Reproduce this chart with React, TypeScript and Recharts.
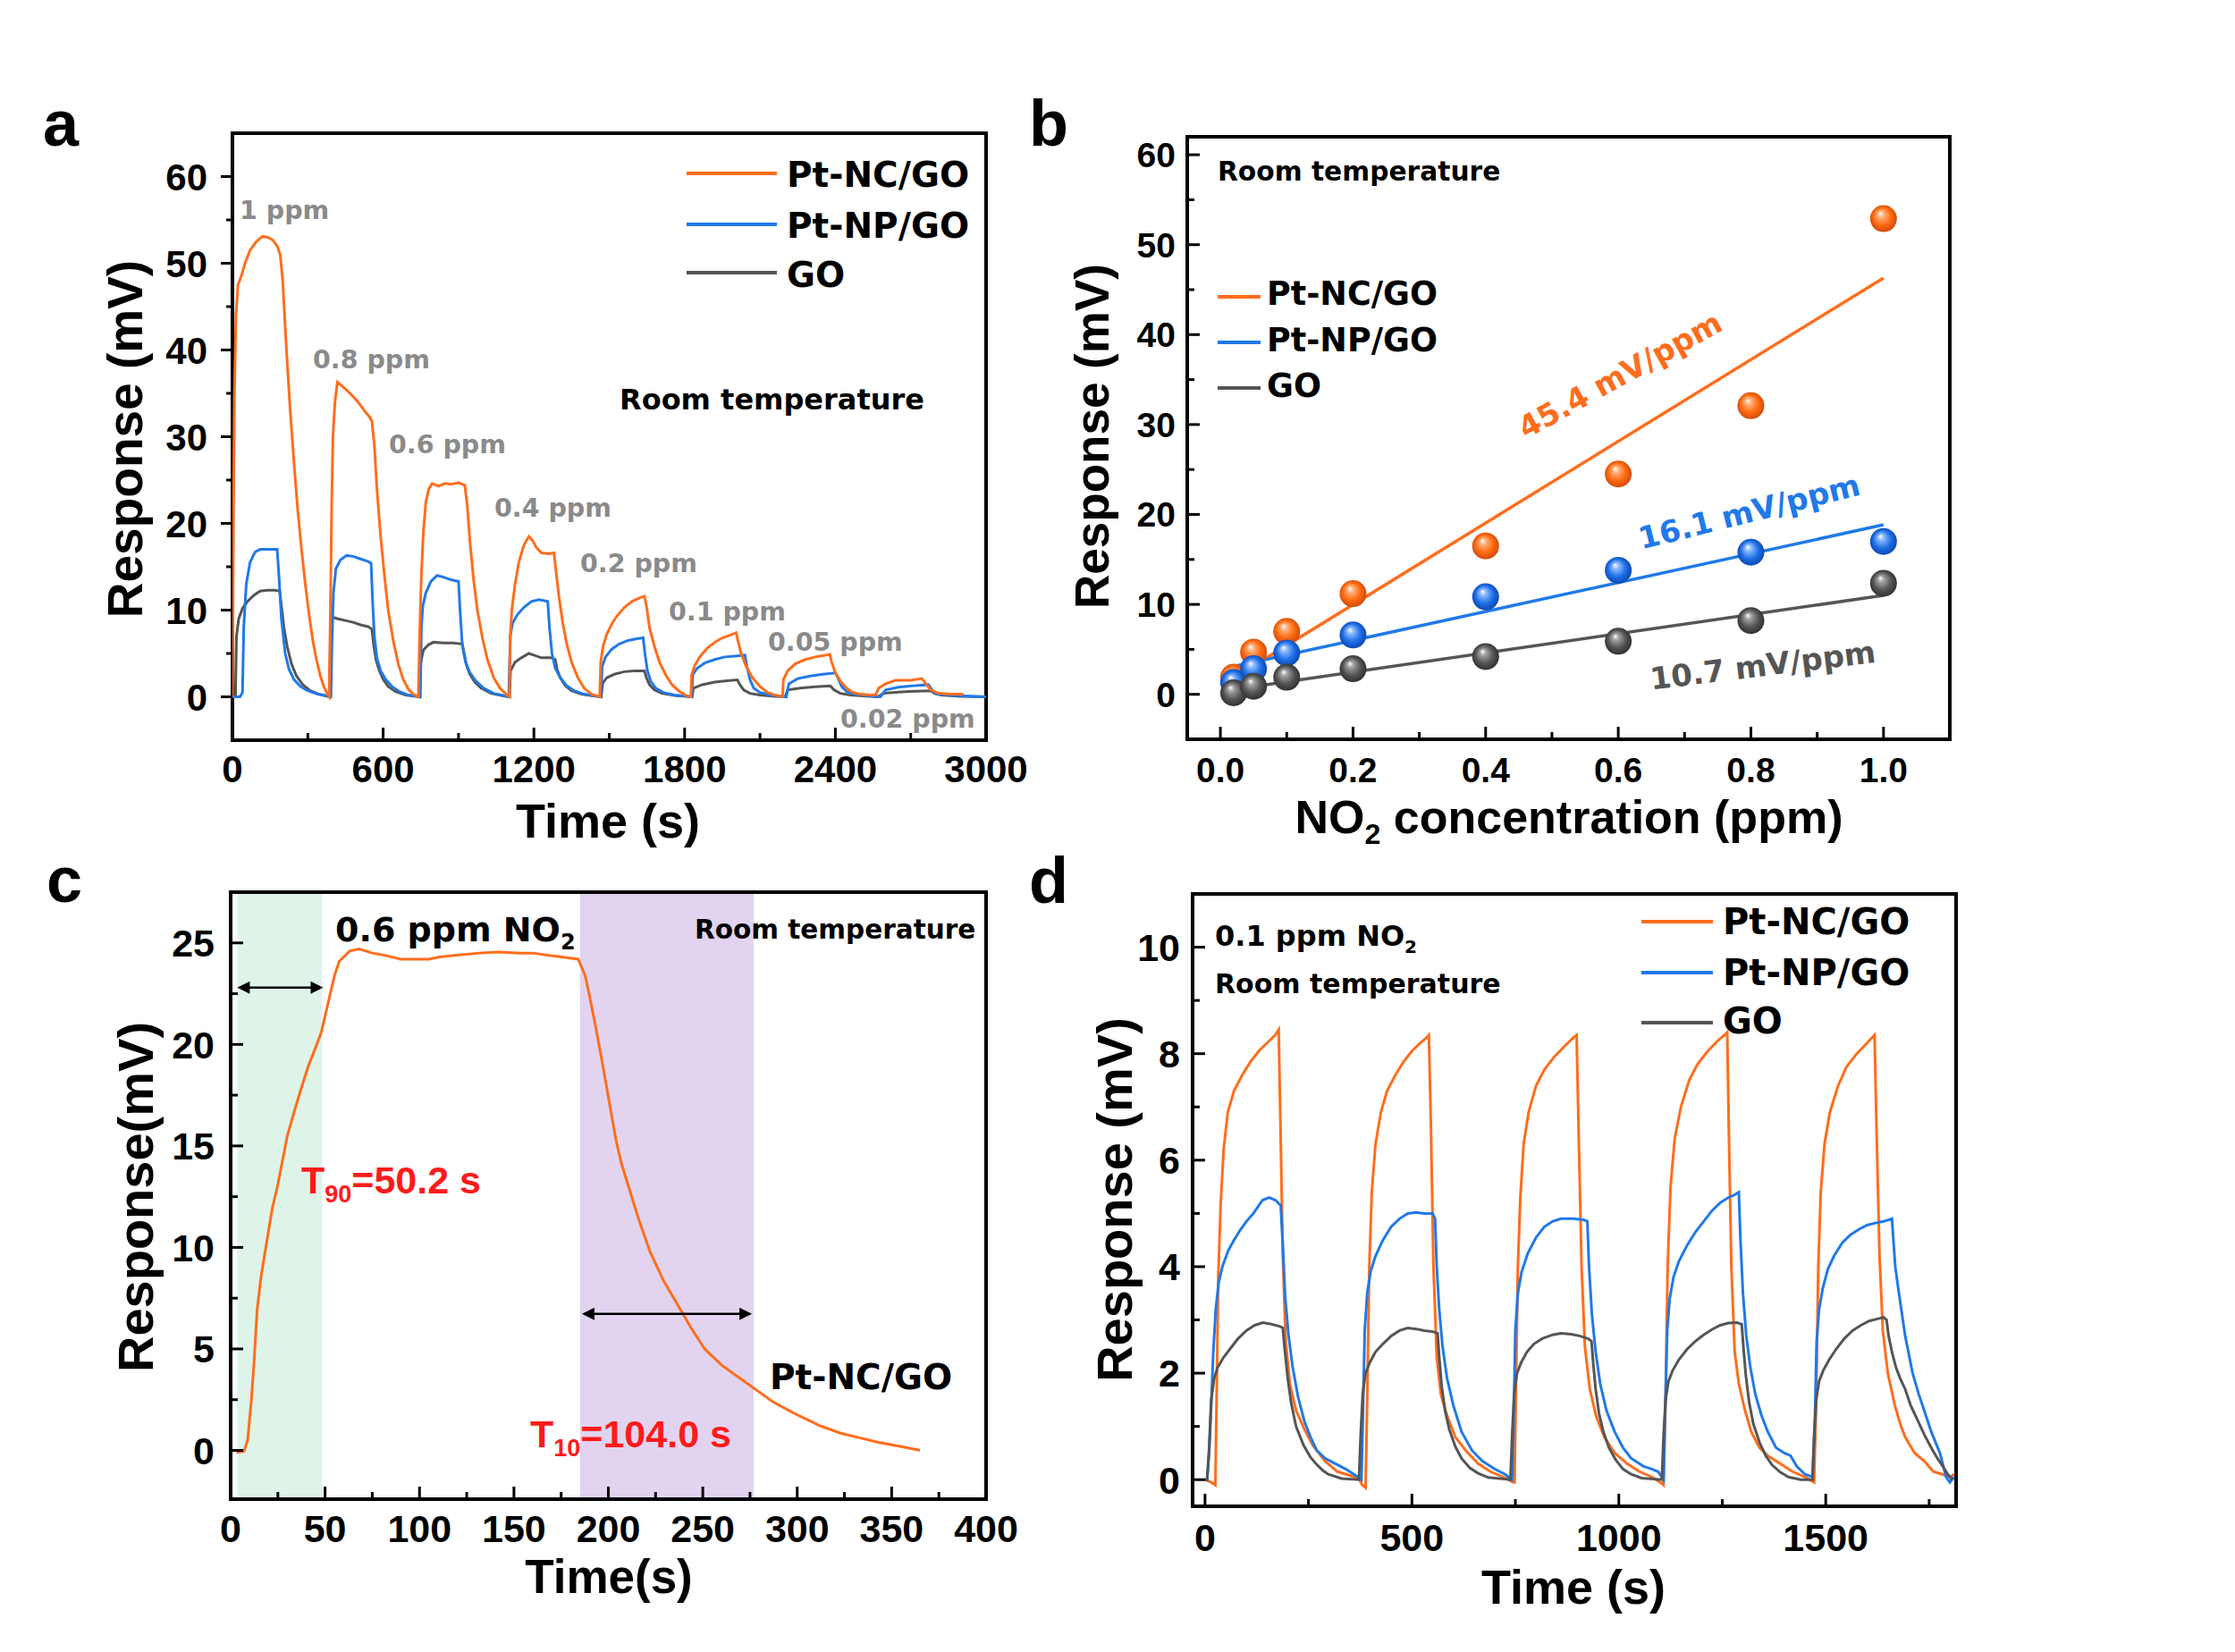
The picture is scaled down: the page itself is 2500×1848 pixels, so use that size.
import React from 'react';
import { ComposedChart, Line, Scatter, XAxis, YAxis, ReferenceArea, ReferenceLine } from 'recharts';

const FA = "'Liberation Sans', Arial, Helvetica, sans-serif";
const FD = "'DejaVu Sans', Verdana, sans-serif";
const ORANGE = '#FF6D1C';
const BLUE = '#2079E8';
const GRAY = '#555555';
const LABEL_GRAY = '#8A8A8A';
const RED = '#FF1A1A';

type P = [number, number];
const toPts = (a: P[]) => a.map(([t, v]) => ({ t, v }));

// ---------- Panel a : response transients (time s, mV) ----------
const aXTicks = [0, 300, 600, 900, 1200, 1500, 1800, 2100, 2400, 2700, 3000];
const aXMajor = [0, 600, 1200, 1800, 2400, 3000];
const aYTicks = [0, 5, 10, 15, 20, 25, 30, 35, 40, 45, 50, 55, 60];
const aYMajor = [0, 10, 20, 30, 40, 50, 60];
const aNC: P[] = [
  [0, 0], [4, 20], [8, 35], [14, 44], [22, 47.5], [35, 48.5], [50, 50], [70, 51.5], [95, 52.5], [120, 53.1], [140, 53], [160, 52.7], [178, 52], [190, 51], [200, 48], [215, 40], [230, 33], [245, 27], [260, 21.5], [275, 17], [290, 13], [305, 9.5], [320, 6.5], [335, 4.2], [350, 2.4], [365, 1.1], [378, 0.3], [385, 0],
  [390, 10], [395, 22], [400, 30], [408, 34], [418, 36.3], [430, 36], [450, 35.5], [475, 34.8], [500, 34], [525, 33], [545, 32.3], [555, 31.8], [565, 29], [575, 24], [590, 18.5], [605, 14], [620, 10], [640, 6.5], [660, 3.8], [680, 2], [700, 0.9], [720, 0.3], [740, 0],
  [746, 8], [752, 14], [760, 19], [770, 22.5], [782, 24], [795, 24.6], [820, 24.3], [845, 24.6], [870, 24.5], [900, 24.7], [925, 24.4], [935, 22], [945, 18], [960, 13.5], [975, 10], [995, 6.8], [1015, 4.3], [1040, 2.2], [1065, 1], [1090, 0.3], [1103, 0],
  [1106, 7], [1112, 10], [1125, 13], [1140, 15.5], [1160, 17.5], [1180, 18.5], [1195, 18], [1210, 17.2], [1230, 16.6], [1260, 16.5], [1280, 16.6], [1290, 14], [1300, 11.5], [1315, 8.5], [1330, 6.2], [1350, 4], [1375, 2.2], [1400, 1], [1430, 0.3], [1462, 0],
  [1466, 4], [1475, 5.8], [1490, 7.2], [1510, 8.4], [1530, 9.3], [1560, 10.3], [1590, 11], [1620, 11.4], [1640, 11.6], [1648, 10.5], [1660, 8], [1680, 5.8], [1700, 4], [1725, 2.5], [1750, 1.4], [1780, 0.6], [1810, 0.1], [1825, 0],
  [1828, 2.5], [1840, 3.6], [1860, 4.6], [1890, 5.6], [1920, 6.3], [1950, 6.8], [1980, 7.1], [2005, 7.4], [2012, 6.5], [2025, 5], [2045, 3.5], [2070, 2.2], [2100, 1.2], [2130, 0.5], [2160, 0.2], [2190, 0],
  [2193, 2], [2210, 3], [2240, 3.8], [2280, 4.3], [2320, 4.6], [2360, 4.8], [2378, 4.9], [2385, 4], [2400, 2.8], [2420, 1.8], [2445, 1], [2470, 0.5], [2500, 0.3], [2540, 0.2], [2560, 0.2],
  [2572, 1], [2600, 1.5], [2640, 1.9], [2700, 1.9], [2745, 2.1], [2760, 1.5], [2780, 0.8], [2810, 0.4], [2860, 0.3], [2910, 0.3],
];
const aNP: P[] = [
  [0, 0], [30, 0], [40, 0.5], [45, 8], [55, 13], [70, 15.5], [90, 16.7], [110, 17], [150, 17], [178, 17], [185, 14], [195, 9], [210, 5], [225, 3.2], [245, 2], [270, 1.2], [300, 0.7], [340, 0.3], [380, 0.1], [392, 0],
  [396, 6], [402, 12], [412, 14.8], [430, 15.8], [455, 16.3], [480, 16.2], [510, 15.9], [540, 15.6], [552, 15.4], [558, 11], [565, 7], [575, 4.5], [590, 3], [610, 2], [635, 1.2], [665, 0.6], [700, 0.2], [748, 0],
  [752, 8], [758, 10.5], [770, 12], [790, 13.3], [815, 14], [840, 13.8], [870, 13.5], [900, 13.3], [906, 10], [915, 6], [928, 4], [945, 2.8], [970, 1.8], [1000, 1], [1040, 0.4], [1100, 0],
  [1106, 7], [1115, 8.5], [1135, 9.5], [1160, 10.3], [1190, 11], [1220, 11.2], [1255, 11], [1262, 8], [1272, 5], [1285, 3.3], [1305, 2.2], [1330, 1.3], [1360, 0.7], [1400, 0.3], [1466, 0],
  [1472, 3.5], [1485, 4.6], [1510, 5.5], [1540, 6.1], [1575, 6.5], [1610, 6.7], [1635, 6.8], [1642, 5], [1652, 3], [1665, 1.8], [1685, 1], [1715, 0.5], [1760, 0.2], [1828, 0],
  [1833, 2.6], [1850, 3.3], [1880, 3.9], [1920, 4.3], [1960, 4.6], [2000, 4.7], [2040, 4.8], [2048, 3.5], [2060, 2], [2075, 1], [2100, 0.5], [2140, 0.2], [2205, 0],
  [2215, 1.5], [2250, 2.1], [2300, 2.4], [2350, 2.6], [2400, 2.75], [2410, 2.2], [2425, 1.2], [2445, 0.6], [2480, 0.3], [2540, 0.1], [2580, 0],
  [2600, 0.8], [2650, 1.1], [2700, 1.25], [2770, 1.4], [2785, 0.8], [2800, 0.35], [2850, 0.2], [2950, 0.05], [3000, 0],
];
const aGO: P[] = [
  [0, 0], [12, 0], [16, 7], [25, 9], [40, 10.2], [60, 11], [85, 11.7], [110, 12.2], [140, 12.3], [170, 12.3], [188, 12.2], [195, 10.5], [205, 8], [218, 5.8], [235, 3.8], [255, 2.4], [280, 1.4], [310, 0.7], [345, 0.3], [386, 0],
  [390, 6], [396, 9.2], [420, 9], [450, 8.8], [480, 8.6], [510, 8.3], [540, 8.1], [555, 7.8], [562, 6], [572, 4.2], [585, 3], [600, 2], [620, 1.2], [650, 0.6], [690, 0.2], [746, 0],
  [750, 4], [760, 5.4], [780, 6], [800, 6.3], [840, 6.2], [880, 6.2], [915, 6.1], [922, 5], [932, 3.6], [945, 2.6], [965, 1.7], [990, 1], [1030, 0.4], [1080, 0.1], [1103, 0],
  [1107, 3], [1125, 4], [1150, 4.5], [1180, 5], [1200, 4.8], [1230, 4.5], [1270, 4.5], [1285, 4.3], [1292, 3.2], [1305, 2.2], [1325, 1.3], [1350, 0.7], [1390, 0.3], [1440, 0.1], [1468, 0],
  [1474, 1.6], [1490, 2.2], [1520, 2.6], [1560, 2.9], [1600, 3], [1640, 3], [1648, 2.2], [1660, 1.4], [1680, 0.8], [1710, 0.4], [1760, 0.15], [1830, 0],
  [1835, 1], [1870, 1.4], [1920, 1.7], [1970, 1.85], [2010, 1.95], [2020, 1.4], [2035, 0.8], [2060, 0.4], [2100, 0.2], [2160, 0.05], [2200, 0],
  [2210, 0.8], [2260, 1], [2320, 1.15], [2380, 1.25], [2395, 0.8], [2420, 0.4], [2460, 0.2], [2540, 0.05], [2570, 0],
  [2590, 0.4], [2650, 0.55], [2720, 0.65], [2780, 0.7], [2795, 0.4], [2820, 0.2], [2900, 0.05], [3000, 0],
];

// ---------- Panel b : calibration ----------
const bConc = [0.02, 0.05, 0.1, 0.2, 0.4, 0.6, 0.8, 1.0];
const bNC = [1.9, 4.7, 7.0, 11.2, 16.5, 24.5, 32.1, 52.9];
const bNP = [1.3, 2.85, 4.6, 6.6, 10.85, 13.8, 15.8, 17.0];
const bGO = [0.17, 0.9, 1.9, 2.85, 4.2, 5.9, 8.2, 12.35];
const bFitNC: P[] = [[0.02, 1.8], [1.0, 46.3]];
const bFitNP: P[] = [[0.02, 3.1], [1.0, 18.85]];
const bFitGO: P[] = [[0.02, 0.55], [1.0, 11.0]];
const bXTicks = [0, 0.1, 0.2, 0.3, 0.4, 0.5, 0.6, 0.7, 0.8, 0.9, 1.0];
const bXMajor = [0, 0.2, 0.4, 0.6, 0.8, 1.0];
const bYTicks = [0, 5, 10, 15, 20, 25, 30, 35, 40, 45, 50, 55, 60];
const bYMajor = [0, 10, 20, 30, 40, 50, 60];
const zipPts = (xs: number[], ys: number[]) => xs.map((t, i) => ({ t, v: ys[i] }));

// ---------- Panel c : single transient ----------
const cNC: P[] = [
  [3, -0.1], [7, -0.05], [9, 0.5], [11, 2.5], [12.5, 4.5], [14, 6.9], [16, 8.5], [19.5, 10.5], [22, 11.9], [25, 13.1], [30, 15.5], [34, 16.8], [37.6, 17.9], [41, 18.9], [44.8, 19.8], [48, 20.6], [52, 22.2], [55, 23.4], [57.5, 24.1], [63, 24.6], [68, 24.7], [75, 24.5], [81, 24.4], [90, 24.2], [95.5, 24.2], [105, 24.2], [110, 24.3], [120, 24.4], [131.7, 24.5], [142, 24.55], [153.4, 24.5], [160, 24.5], [167.8, 24.4], [176, 24.3], [184, 24.2], [187.7, 23.4], [190, 22.4], [193, 21], [196.8, 19.1], [200, 17.4], [204, 15.3], [207, 14.1], [211, 12.9], [216, 11.4], [222, 9.8], [229, 8.4], [236.5, 7.2], [244, 6.0], [251, 5.0], [260, 4.2], [269, 3.6], [278, 3.0], [287, 2.4], [299, 1.8], [312.5, 1.2], [323, 0.85], [334, 0.6], [343, 0.4], [352, 0.24], [360, 0.1], [365, 0],
];
const cXTicks = [0, 25, 50, 75, 100, 125, 150, 175, 200, 225, 250, 275, 300, 325, 350, 375, 400];
const cXMajor = [0, 50, 100, 150, 200, 250, 300, 350, 400];
const cYTicks = [0, 2.5, 5, 7.5, 10, 12.5, 15, 17.5, 20, 22.5, 25];
const cYMajor = [0, 5, 10, 15, 20, 25];
const cRiseBand = [3.5, 48.5];
const cRecBand = [185, 277];
const cRiseArrow = { x1: 3.5, x2: 49, y: 22.8 };
const cRecArrow = { x1: 186, x2: 276, y: 6.73 };

// ---------- Panel d : repeatability ----------
const dNC: P[] = [
  [0, 0], [15, -0.05], [25, -0.1], [28, 1.5], [32, 3.8], [38, 5.2], [45, 6.2], [55, 6.9], [70, 7.3], [90, 7.6], [110, 7.85], [130, 8.05], [150, 8.2], [170, 8.35], [178, 8.45], [182, 6.8], [188, 4.2], [195, 2.6], [205, 1.8], [220, 1.3], [240, 0.95], [260, 0.65], [290, 0.35], [320, 0.15], [350, 0.08], [372, 0.02], [380, -0.1], [388, -0.15],
  [392, 1.5], [397, 4], [403, 5.4], [412, 6.3], [425, 6.9], [440, 7.3], [460, 7.6], [480, 7.85], [500, 8.05], [520, 8.2], [535, 8.3], [541, 8.35], [546, 6.6], [552, 4], [560, 2.3], [570, 1.6], [585, 1.2], [605, 0.8], [630, 0.55], [660, 0.3], [690, 0.15], [720, 0.05], [745, -0.05],
  [748, -0.05], [751, 1.5], [756, 4], [762, 5.3], [770, 6.3], [782, 6.9], [800, 7.4], [820, 7.7], [845, 7.95], [870, 8.15], [890, 8.3], [898, 8.35], [903, 6.5], [910, 4], [918, 2.5], [930, 1.7], [945, 1.2], [965, 0.8], [990, 0.5], [1020, 0.3], [1050, 0.15], [1080, 0.05], [1100, -0.05], [1108, -0.1],
  [1113, 1.5], [1118, 4], [1125, 5.5], [1135, 6.4], [1150, 7], [1170, 7.5], [1190, 7.8], [1215, 8.05], [1240, 8.25], [1255, 8.35], [1262, 8.4], [1266, 6.5], [1272, 4], [1280, 2.4], [1290, 1.8], [1305, 1.3], [1320, 0.9], [1340, 0.6], [1360, 0.45], [1380, 0.35], [1400, 0.25], [1420, 0.15], [1450, 0.05], [1472, -0.05],
  [1477, 1.5], [1482, 4], [1488, 5.4], [1497, 6.3], [1510, 6.9], [1530, 7.4], [1550, 7.75], [1575, 8.0], [1600, 8.2], [1612, 8.3], [1618, 8.35], [1623, 6.5], [1630, 4.2], [1638, 2.8], [1650, 2.0], [1667, 1.4], [1680, 1.05], [1692, 0.8], [1715, 0.5], [1738, 0.35], [1760, 0.15], [1782, 0.1], [1800, 0.05], [1810, 0.1],
];
const dNP: P[] = [
  [0, 0], [5, 0], [10, 0.5], [15, 1.4], [20, 2.4], [26, 3.2], [33, 3.7], [42, 4.0], [56, 4.3], [70, 4.5], [86, 4.7], [100, 4.85], [117, 5.0], [139, 5.25], [155, 5.3], [170, 5.25], [183, 5.15], [188, 4.4], [194, 3.4], [202, 2.7], [212, 2.1], [225, 1.55], [240, 1.1], [255, 0.8], [270, 0.55], [290, 0.4], [315, 0.3], [340, 0.2], [360, 0.1], [378, 0],
  [381, 1], [386, 2.8], [392, 3.5], [400, 3.9], [412, 4.2], [430, 4.5], [450, 4.75], [470, 4.9], [490, 5.0], [510, 5.02], [530, 5.0], [550, 5.0], [556, 4.9], [560, 4], [566, 3.2], [574, 2.5], [585, 1.9], [600, 1.4], [620, 0.9], [645, 0.55], [670, 0.35], [700, 0.2], [725, 0.1], [742, 0],
  [746, 1.2], [750, 2.8], [756, 3.5], [765, 3.9], [780, 4.25], [800, 4.55], [820, 4.75], [840, 4.85], [860, 4.9], [890, 4.9], [915, 4.88], [924, 4.85], [928, 4], [935, 3.1], [944, 2.4], [955, 1.8], [970, 1.3], [990, 0.9], [1010, 0.6], [1030, 0.4], [1060, 0.25], [1080, 0.2], [1095, 0.15], [1108, 0],
  [1112, 1.3], [1117, 2.8], [1123, 3.4], [1132, 3.8], [1145, 4.1], [1165, 4.4], [1185, 4.65], [1205, 4.85], [1225, 5.05], [1245, 5.2], [1265, 5.3], [1280, 5.35], [1290, 5.4], [1294, 4.5], [1300, 3.5], [1308, 2.7], [1318, 2.1], [1330, 1.6], [1345, 1.2], [1360, 0.9], [1380, 0.6], [1400, 0.5], [1415, 0.45], [1430, 0.25], [1450, 0.1], [1468, 0.05],
  [1474, 1.2], [1478, 2.6], [1484, 3.2], [1493, 3.6], [1505, 3.95], [1520, 4.2], [1540, 4.45], [1560, 4.6], [1580, 4.7], [1600, 4.78], [1620, 4.82], [1640, 4.85], [1660, 4.9], [1668, 4.0], [1677, 3.5], [1692, 2.7], [1710, 2.0], [1725, 1.6], [1738, 1.3], [1755, 0.9], [1776, 0.5], [1791, 0.05], [1800, -0.05], [1810, 0.05],
];
const dGO: P[] = [
  [0, 0], [5, 0], [10, 0.6], [15, 1.5], [22, 1.9], [30, 2.1], [45, 2.3], [60, 2.45], [80, 2.65], [100, 2.8], [120, 2.9], [140, 2.95], [160, 2.92], [180, 2.88], [188, 2.85], [192, 2.5], [200, 1.9], [208, 1.45], [220, 1.0], [238, 0.65], [255, 0.42], [268, 0.3], [285, 0.17], [298, 0.1], [330, 0.02], [372, 0],
  [376, 0.8], [381, 1.6], [388, 2.0], [398, 2.2], [412, 2.4], [430, 2.55], [450, 2.7], [470, 2.8], [490, 2.85], [510, 2.83], [530, 2.8], [550, 2.78], [562, 2.75], [566, 2.3], [572, 1.75], [580, 1.3], [590, 0.95], [605, 0.62], [620, 0.4], [640, 0.22], [660, 0.12], [685, 0.04], [738, 0],
  [742, 0.8], [747, 1.6], [754, 2.0], [764, 2.2], [778, 2.4], [795, 2.55], [815, 2.65], [840, 2.72], [860, 2.75], [885, 2.73], [905, 2.7], [925, 2.65], [934, 2.6], [938, 2.2], [944, 1.7], [952, 1.25], [962, 0.92], [976, 0.6], [992, 0.38], [1010, 0.2], [1030, 0.1], [1055, 0.03], [1104, 0],
  [1108, 0.8], [1113, 1.5], [1120, 1.85], [1130, 2.05], [1145, 2.25], [1165, 2.45], [1185, 2.6], [1205, 2.72], [1225, 2.82], [1245, 2.9], [1265, 2.94], [1285, 2.95], [1297, 2.92], [1301, 2.5], [1307, 1.95], [1315, 1.45], [1325, 1.05], [1340, 0.7], [1355, 0.45], [1370, 0.28], [1390, 0.14], [1410, 0.05], [1440, 0], [1468, 0],
  [1472, 0.8], [1477, 1.5], [1484, 1.85], [1494, 2.05], [1508, 2.25], [1525, 2.45], [1545, 2.65], [1565, 2.8], [1585, 2.9], [1605, 2.98], [1625, 3.02], [1640, 3.05], [1647, 3.0], [1652, 2.7], [1660, 2.4], [1670, 2.1], [1680, 1.9], [1692, 1.7], [1705, 1.4], [1720, 1.15], [1738, 0.85], [1755, 0.6], [1770, 0.4], [1783, 0.25], [1795, 0.1], [1806, 0.0],
];
const dXTicks = [0, 250, 500, 750, 1000, 1250, 1500, 1750];
const dXMajor = [0, 500, 1000, 1500];
const dYTicks = [0, 1, 2, 3, 4, 5, 6, 7, 8, 9, 10];
const dYMajor = [0, 2, 4, 6, 8, 10];

// ---------- tick factory ----------
type TickOpts = {
  side: 'bottom' | 'left'; majors: number[]; fs: number; gap: number;
  len: number; minorLen: number; inward: boolean; fmt: (v: number) => string;
};
const makeTick = (o: TickOpts) => (props: any) => {
  const { x, y, payload } = props;
  const v = Number(payload.value);
  const isMajor = o.majors.some((m) => Math.abs(m - v) < 1e-9);
  const L = isMajor ? o.len : o.minorLen;
  const dir = o.inward ? -1 : 1;
  if (o.side === 'bottom') {
    return (
      <g>
        <line x1={x} y1={y} x2={x} y2={y + dir * L} stroke="#000" strokeWidth={3} />
        {isMajor && (
          <text x={x} y={y + o.gap + 0.716 * o.fs} textAnchor="middle" fontFamily={FA} fontWeight={700} fontSize={o.fs} fill="#000">
            {o.fmt(v)}
          </text>
        )}
      </g>
    );
  }
  return (
    <g>
      <line x1={x} y1={y} x2={x - dir * L} y2={y} stroke="#000" strokeWidth={3} />
      {isMajor && (
        <text x={x - o.gap} y={y + 0.358 * o.fs} textAnchor="end" fontFamily={FA} fontWeight={700} fontSize={o.fs} fill="#000">
          {o.fmt(v)}
        </text>
      )}
    </g>
  );
};
const intFmt = (v: number) => String(Math.round(v));

const ArrowShape = (p: any) => {
  const { x1, y1, x2, y2 } = p;
  const a = Math.min(x1, x2);
  const b = Math.max(x1, x2);
  const h = 14;
  const w = 7;
  return (
    <g>
      <line x1={a + h - 2} y1={y1} x2={b - h + 2} y2={y2} stroke="#000" strokeWidth={2.5} />
      <polygon points={`${a},${y1} ${a + h},${y1 - w} ${a + h},${y1 + w}`} fill="#000" />
      <polygon points={`${b},${y2} ${b - h},${y2 - w} ${b - h},${y2 + w}`} fill="#000" />
    </g>
  );
};

const sphere = (id: string) => (p: any) => <circle cx={p.cx} cy={p.cy} r={15} fill={`url(#${id})`} />;

const lineProps = { type: 'linear' as const, dot: false, isAnimationActive: false, activeDot: false };

const Txt = (p: { x: number; y: number; fs: number; fam?: string; fill?: string; anchor?: 'start' | 'middle' | 'end'; rot?: number; dy?: string; children: React.ReactNode }) => (
  <text
    x={p.x}
    y={p.y}
    fontSize={p.fs}
    fontFamily={p.fam || FD}
    fontWeight={700}
    fill={p.fill || '#000'}
    textAnchor={p.anchor || 'start'}
    dy={p.dy}
    transform={p.rot ? `rotate(${p.rot}, ${p.x}, ${p.y})` : undefined}
  >
    {p.children}
  </text>
);

const LegendRow = ({ x1, x2, y, tx, ty, fs, color, label }: any) => (
  <g>
    <line x1={x1} x2={x2} y1={y} y2={y} stroke={color} strokeWidth={4} />
    <Txt x={tx} y={ty} fs={fs}>{label}</Txt>
  </g>
);

export default function App() {
  return (
    <div style={{ position: 'absolute', left: 0, top: 0, width: 2500, height: 1848, background: '#fff', overflow: 'hidden' }}>
      <svg width={0} height={0} style={{ position: 'absolute' }}>
        <defs>
          <radialGradient id="sO" cx="0.5" cy="0.5" r="0.55" fx="0.38" fy="0.3">
            <stop offset="0" stopColor="#ffffff" />
            <stop offset="0.22" stopColor="#ffb07a" />
            <stop offset="0.6" stopColor="#ff6a10" />
            <stop offset="1" stopColor="#c8460a" />
          </radialGradient>
          <radialGradient id="sB" cx="0.5" cy="0.5" r="0.55" fx="0.38" fy="0.3">
            <stop offset="0" stopColor="#ffffff" />
            <stop offset="0.22" stopColor="#8ab8ff" />
            <stop offset="0.6" stopColor="#1f6fe6" />
            <stop offset="1" stopColor="#0b3fa8" />
          </radialGradient>
          <radialGradient id="sG" cx="0.5" cy="0.5" r="0.55" fx="0.38" fy="0.3">
            <stop offset="0" stopColor="#ffffff" />
            <stop offset="0.22" stopColor="#a0a0a0" />
            <stop offset="0.6" stopColor="#555555" />
            <stop offset="1" stopColor="#2a2a2a" />
          </radialGradient>
        </defs>
      </svg>

      {/* Panel a */}
      <div style={{ position: 'absolute', left: 0, top: 0 }}>
        <ComposedChart width={1200} height={950} margin={{ top: 149, right: 97, bottom: 62, left: 160 }}>
          <XAxis type="number" dataKey="t" domain={[0, 3000]} ticks={aXTicks} interval={0} allowDataOverflow height={60}
            axisLine={false} tickLine={false} tickSize={0} tickMargin={0}
            tick={makeTick({ side: 'bottom', majors: aXMajor, fs: 42, gap: 17, len: 14, minorLen: 8, inward: true, fmt: intFmt })} />
          <YAxis type="number" dataKey="v" domain={[-5, 65]} ticks={aYTicks} interval={0} allowDataOverflow width={100}
            axisLine={false} tickLine={false} tickSize={0} tickMargin={0}
            tick={makeTick({ side: 'left', majors: aYMajor, fs: 42, gap: 28, len: 13, minorLen: 7, inward: false, fmt: intFmt })} />
          <Line data={toPts(aGO)} dataKey="v" stroke={GRAY} strokeWidth={3} {...lineProps} />
          <Line data={toPts(aNP)} dataKey="v" stroke={BLUE} strokeWidth={3} {...lineProps} />
          <Line data={toPts(aNC)} dataKey="v" stroke={ORANGE} strokeWidth={3} {...lineProps} />
          <ReferenceArea x1={0} x2={3000} y1={-5} y2={65} fill="none" stroke="#000" strokeWidth={4} ifOverflow="visible" />
        </ComposedChart>
      </div>

      {/* Panel b */}
      <div style={{ position: 'absolute', left: 1200, top: 0 }}>
        <ComposedChart width={1100} height={950} margin={{ top: 153, right: 119, bottom: 63, left: 28 }}>
          <XAxis type="number" dataKey="t" domain={[-0.05, 1.1]} ticks={bXTicks} interval={0} allowDataOverflow height={60}
            axisLine={false} tickLine={false} tickSize={0} tickMargin={0}
            tick={makeTick({ side: 'bottom', majors: bXMajor, fs: 39, gap: 20, len: 14, minorLen: 8, inward: true, fmt: (v) => v.toFixed(1) })} />
          <YAxis type="number" dataKey="v" domain={[-5, 62]} ticks={bYTicks} interval={0} allowDataOverflow width={100}
            axisLine={false} tickLine={false} tickSize={0} tickMargin={0}
            tick={makeTick({ side: 'left', majors: bYMajor, fs: 39, gap: 13, len: 14, minorLen: 8, inward: true, fmt: intFmt })} />
          <Line data={toPts(bFitNC)} dataKey="v" stroke={ORANGE} strokeWidth={3.5} {...lineProps} />
          <Line data={toPts(bFitNP)} dataKey="v" stroke={BLUE} strokeWidth={3.5} {...lineProps} />
          <Line data={toPts(bFitGO)} dataKey="v" stroke={GRAY} strokeWidth={3.5} {...lineProps} />
          <Scatter data={zipPts(bConc, bNC)} dataKey="v" shape={sphere('sO')} isAnimationActive={false} />
          <Scatter data={zipPts(bConc, bNP)} dataKey="v" shape={sphere('sB')} isAnimationActive={false} />
          <Scatter data={zipPts(bConc, bGO)} dataKey="v" shape={sphere('sG')} isAnimationActive={false} />
          <ReferenceArea x1={-0.05} x2={1.1} y1={-5} y2={62} fill="none" stroke="#000" strokeWidth={4} ifOverflow="visible" />
        </ComposedChart>
      </div>

      {/* Panel c */}
      <div style={{ position: 'absolute', left: 0, top: 950 }}>
        <ComposedChart width={1200} height={898} margin={{ top: 48, right: 97, bottom: 111, left: 158 }}>
          <XAxis type="number" dataKey="t" domain={[0, 400]} ticks={cXTicks} interval={0} allowDataOverflow height={60}
            axisLine={false} tickLine={false} tickSize={0} tickMargin={0}
            tick={makeTick({ side: 'bottom', majors: cXMajor, fs: 43, gap: 17, len: 14, minorLen: 8, inward: true, fmt: intFmt })} />
          <YAxis type="number" dataKey="v" domain={[-2.4, 27.5]} ticks={cYTicks} interval={0} allowDataOverflow width={100}
            axisLine={false} tickLine={false} tickSize={0} tickMargin={0}
            tick={makeTick({ side: 'left', majors: cYMajor, fs: 43, gap: 18, len: 14, minorLen: 8, inward: true, fmt: intFmt })} />
          <ReferenceArea x1={cRiseBand[0]} x2={cRiseBand[1]} y1={-2.4} y2={27.5} fill="#DFF4E8" fillOpacity={1} stroke="none" />
          <ReferenceArea x1={cRecBand[0]} x2={cRecBand[1]} y1={-2.4} y2={27.5} fill="#E2D4F0" fillOpacity={1} stroke="none" />
          <Line data={toPts(cNC)} dataKey="v" stroke={ORANGE} strokeWidth={3} {...lineProps} />
          <ReferenceLine segment={[{ x: cRiseArrow.x1, y: cRiseArrow.y }, { x: cRiseArrow.x2, y: cRiseArrow.y }]} shape={ArrowShape} ifOverflow="visible" />
          <ReferenceLine segment={[{ x: cRecArrow.x1, y: cRecArrow.y }, { x: cRecArrow.x2, y: cRecArrow.y }]} shape={ArrowShape} ifOverflow="visible" />
          <ReferenceArea x1={0} x2={400} y1={-2.4} y2={27.5} fill="none" stroke="#000" strokeWidth={4} ifOverflow="visible" />
        </ComposedChart>
      </div>

      {/* Panel d */}
      <div style={{ position: 'absolute', left: 1200, top: 950 }}>
        <ComposedChart width={1100} height={898} margin={{ top: 50, right: 112, bottom: 103, left: 34 }}>
          <XAxis type="number" dataKey="t" domain={[-30, 1815]} ticks={dXTicks} interval={0} allowDataOverflow height={60}
            axisLine={false} tickLine={false} tickSize={0} tickMargin={0}
            tick={makeTick({ side: 'bottom', majors: dXMajor, fs: 43, gap: 19, len: 14, minorLen: 8, inward: true, fmt: intFmt })} />
          <YAxis type="number" dataKey="v" domain={[-0.5, 11]} ticks={dYTicks} interval={0} allowDataOverflow width={100}
            axisLine={false} tickLine={false} tickSize={0} tickMargin={0}
            tick={makeTick({ side: 'left', majors: dYMajor, fs: 43, gap: 14, len: 14, minorLen: 8, inward: true, fmt: intFmt })} />
          <Line data={toPts(dNC)} dataKey="v" stroke={ORANGE} strokeWidth={3} {...lineProps} />
          <Line data={toPts(dNP)} dataKey="v" stroke={BLUE} strokeWidth={3} {...lineProps} />
          <Line data={toPts(dGO)} dataKey="v" stroke={GRAY} strokeWidth={3} {...lineProps} />
          <ReferenceArea x1={-30} x2={1815} y1={-0.5} y2={11} fill="none" stroke="#000" strokeWidth={4} ifOverflow="visible" />
        </ComposedChart>
      </div>

      {/* text overlay */}
      <svg width={2500} height={1848} style={{ position: 'absolute', left: 0, top: 0, pointerEvents: 'none' }}>
        {/* panel letters */}
        <Txt x={48} y={163} fs={72} fam={FA}>a</Txt>
        <Txt x={1151} y={163} fs={72} fam={FA}>b</Txt>
        <Txt x={52} y={1009} fs={72} fam={FA}>c</Txt>
        <Txt x={1151} y={1010} fs={72} fam={FA}>d</Txt>

        {/* panel a */}
        <Txt x={145} y={491} fs={55} fam={FA} anchor="middle" rot={-90} dy="0.25em">Response (mV)</Txt>
        <Txt x={680} y={937} fs={54} fam={FA} anchor="middle">Time (s)</Txt>
        <LegendRow x1={768} x2={869} y={194} tx={880} ty={209} fs={39} color={ORANGE} label="Pt-NC/GO" />
        <LegendRow x1={768} x2={869} y={251} tx={880} ty={266} fs={39} color={BLUE} label="Pt-NP/GO" />
        <LegendRow x1={768} x2={869} y={305} tx={880} ty={321} fs={39} color={GRAY} label="GO" />
        <Txt x={693} y={458} fs={32}>Room temperature</Txt>
        <Txt x={268} y={245} fs={28.5} fill={LABEL_GRAY}>1 ppm</Txt>
        <Txt x={350} y={412} fs={28.5} fill={LABEL_GRAY}>0.8 ppm</Txt>
        <Txt x={435} y={507} fs={28.5} fill={LABEL_GRAY}>0.6 ppm</Txt>
        <Txt x={553} y={578} fs={28.5} fill={LABEL_GRAY}>0.4 ppm</Txt>
        <Txt x={649} y={640} fs={28.5} fill={LABEL_GRAY}>0.2 ppm</Txt>
        <Txt x={748} y={694} fs={28.5} fill={LABEL_GRAY}>0.1 ppm</Txt>
        <Txt x={859} y={728} fs={28.5} fill={LABEL_GRAY}>0.05 ppm</Txt>
        <Txt x={940} y={814} fs={28.5} fill={LABEL_GRAY}>0.02 ppm</Txt>

        {/* panel b */}
        <Txt x={1227} y={488} fs={53} fam={FA} anchor="middle" rot={-90} dy="0.25em">Response (mV)</Txt>
        <text x={1755} y={932} fontSize={52} fontFamily={FA} fontWeight={700} textAnchor="middle" fill="#000">
          NO<tspan fontSize={32} dy={12}>2</tspan><tspan dy={-12}> concentration (ppm)</tspan>
        </text>
        <Txt x={1362} y={202} fs={29.7}>Room temperature</Txt>
        <LegendRow x1={1362} x2={1410} y={332} tx={1417} ty={341} fs={36.5} color={ORANGE} label="Pt-NC/GO" />
        <LegendRow x1={1362} x2={1410} y={383} tx={1417} ty={393} fs={36.5} color={BLUE} label="Pt-NP/GO" />
        <LegendRow x1={1362} x2={1410} y={434} tx={1417} ty={444} fs={36.5} color={GRAY} label="GO" />
        <Txt x={1813} y={421} fs={34} fill={ORANGE} anchor="middle" rot={-29} dy="0.3em">45.4 mV/ppm</Txt>
        <Txt x={1957} y={574} fs={34} fill={BLUE} anchor="middle" rot={-14} dy="0.3em">16.1 mV/ppm</Txt>
        <Txt x={1972} y={746} fs={34} fill={GRAY} anchor="middle" rot={-7} dy="0.3em">10.7 mV/ppm</Txt>

        {/* panel c */}
        <Txt x={157} y={1339} fs={56} fam={FA} anchor="middle" rot={-90} dy="0.25em">Response(mV)</Txt>
        <Txt x={681} y={1782} fs={53} fam={FA} anchor="middle">Time(s)</Txt>
        <text x={375} y={1053} fontSize={38} fontFamily={FD} fontWeight={700} fill="#000">
          0.6 ppm NO<tspan fontSize={24} dy={9}>2</tspan>
        </text>
        <Txt x={777} y={1050} fs={29.5}>Room temperature</Txt>
        <text x={337} y={1335} fontSize={43} fontFamily={FA} fontWeight={700} fill={RED}>
          T<tspan fontSize={27} dy={10}>90</tspan><tspan dy={-10}>=50.2 s</tspan>
        </text>
        <text x={593} y={1619} fontSize={43} fontFamily={FA} fontWeight={700} fill={RED}>
          T<tspan fontSize={27} dy={10}>10</tspan><tspan dy={-10}>=104.0 s</tspan>
        </text>
        <Txt x={861} y={1554} fs={39}>Pt-NC/GO</Txt>

        {/* panel d */}
        <Txt x={1252} y={1342} fs={56} fam={FA} anchor="middle" rot={-90} dy="0.25em">Response (mV)</Txt>
        <Txt x={1760} y={1794} fs={54} fam={FA} anchor="middle">Time (s)</Txt>
        <text x={1359} y={1058} fontSize={32} fontFamily={FD} fontWeight={700} fill="#000">
          0.1 ppm NO<tspan fontSize={20} dy={8}>2</tspan>
        </text>
        <Txt x={1359} y={1111} fs={30}>Room temperature</Txt>
        <LegendRow x1={1836} x2={1916} y={1031} tx={1927} ty={1045} fs={40} color={ORANGE} label="Pt-NC/GO" />
        <LegendRow x1={1836} x2={1916} y={1088} tx={1927} ty={1102} fs={40} color={BLUE} label="Pt-NP/GO" />
        <LegendRow x1={1836} x2={1916} y={1144} tx={1927} ty={1156} fs={40} color={GRAY} label="GO" />
      </svg>
    </div>
  );
}
